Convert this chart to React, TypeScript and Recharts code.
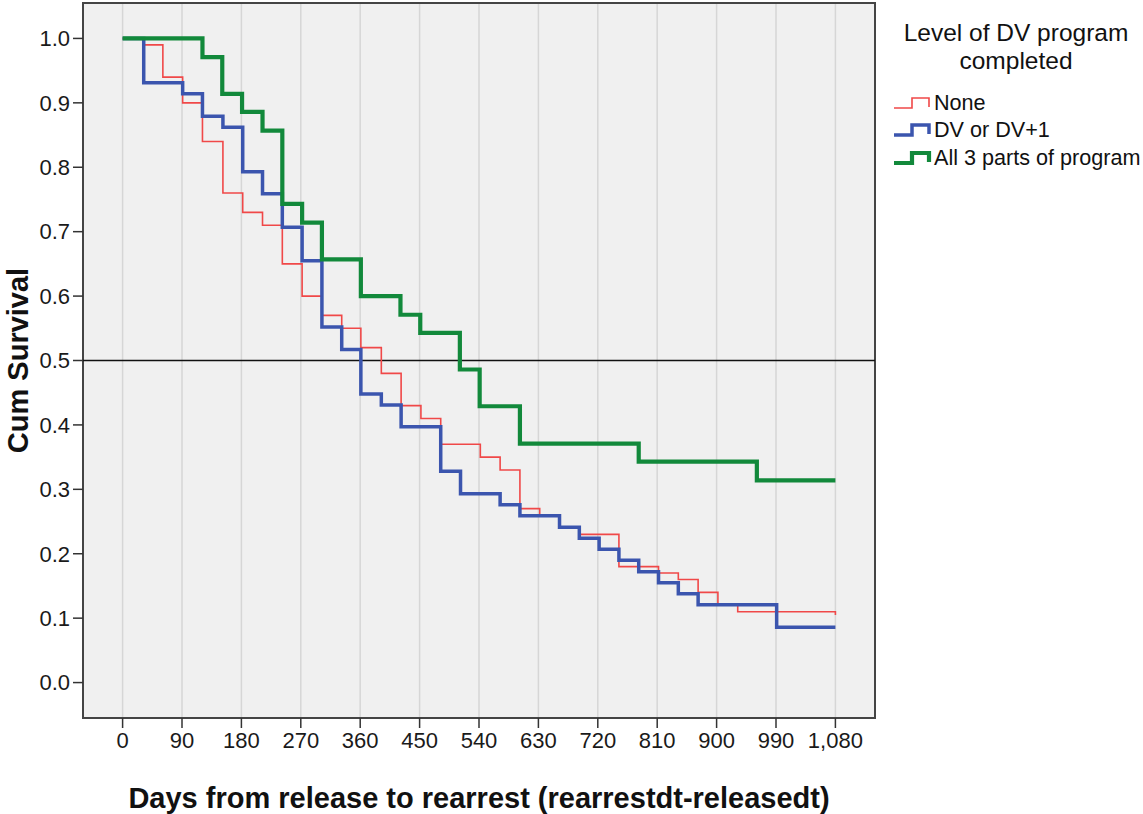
import React from 'react';
import { LineChart, Line, XAxis, YAxis, CartesianGrid, ReferenceLine, ReferenceArea } from 'recharts';

const FONT = '"Liberation Sans", Arial, sans-serif';

// Kaplan-Meier steps
const noneDays = [0, 32, 61, 91, 121, 152, 182, 212, 242, 272, 302, 332, 361, 392, 422, 452, 482, 542, 572, 602, 632, 662, 692, 752, 812, 842, 872, 902, 932, 1080];
const noneSurv = [1.0, 0.99, 0.94, 0.9, 0.84, 0.76, 0.73, 0.71, 0.65, 0.6, 0.57, 0.55, 0.52, 0.48, 0.43, 0.41, 0.37, 0.35, 0.33, 0.27, 0.26, 0.24, 0.23, 0.18, 0.17, 0.16, 0.14, 0.12, 0.11, 0.105];

const dvDays = [0, 32, 91, 121, 152, 182, 212, 242, 272, 302, 332, 361, 392, 422, 482, 512, 572, 602, 662, 692, 722, 752, 782, 812, 842, 872, 991, 1080];
const dvSurv = [1.0, 0.931, 0.914, 0.879, 0.862, 0.793, 0.759, 0.707, 0.655, 0.552, 0.517, 0.448, 0.431, 0.397, 0.328, 0.293, 0.276, 0.259, 0.241, 0.224, 0.207, 0.19, 0.172, 0.155, 0.138, 0.121, 0.086, 0.086];

const allDays = [0, 121, 151, 181, 212, 242, 272, 302, 361, 421, 451, 511, 541, 602, 782, 961, 1080];
const allSurv = [1.0, 0.971, 0.914, 0.886, 0.857, 0.743, 0.714, 0.657, 0.6, 0.571, 0.543, 0.486, 0.429, 0.371, 0.343, 0.314, 0.314];

const xTicks = [0, 90, 180, 270, 360, 450, 540, 630, 720, 810, 900, 990, 1080];
const yTicks = [0, 0.1, 0.2, 0.3, 0.4, 0.5, 0.6, 0.7, 0.8, 0.9, 1.0];

const seriesNames = ['None', 'DV or DV+1', 'All 3 parts of program'];
const seriesColors = ['#f04848', '#3b55ae', '#12893b'];
const seriesWidths = [1.6, 3.5, 4.2];

const toData = (days: number[], surv: number[]) => days.map((d, i) => ({ d, s: surv[i] }));
const noneData = toData(noneDays, noneSurv);
const dvData = toData(dvDays, dvSurv);
const allData = toData(allDays, allSurv);

const StepIcon = ({ color, width }: { color: string; width: number }) => (
  <svg width={40} height={22} style={{ display: 'block', flex: '0 0 auto' }}>
    <path d="M2 16 L20 16 L20 6 L37 6 L37 15" fill="none" stroke={color} strokeWidth={width} />
  </svg>
);

const LegendBlock = () => (
  <div style={{ position: 'absolute', left: 880, top: 19, width: 263, fontFamily: FONT, color: '#111' }}>
    <div style={{ textAlign: 'center', fontSize: 24.5, lineHeight: '28px', width: 250, marginLeft: 11 }}>
      Level of DV program<br />completed
    </div>
    <div style={{ marginTop: 14, marginLeft: 12 }}>
      {seriesNames.map((n, i) => (
        <div key={n} style={{ display: 'flex', alignItems: 'center', height: 27.5, fontSize: 21.6 }}>
          <StepIcon color={seriesColors[i]} width={seriesWidths[i]} />
          <span style={{ marginLeft: 2, whiteSpace: 'nowrap' }}>{n}</span>
        </div>
      ))}
    </div>
  </div>
);

const XTitle = (props: any) => {
  const vb = props.viewBox || {};
  return (
    <text x={vb.x + vb.width / 2} y={808} textAnchor="middle" fontFamily={FONT} fontWeight="bold" fontSize={29} fill="#111">
      Days from release to rearrest (rearrestdt-releasedt)
    </text>
  );
};

const YTitle = (props: any) => {
  const vb = props.viewBox || {};
  const cy = vb.y + vb.height / 2;
  return (
    <text x={28} y={cy} transform={`rotate(-90 28 ${cy})`} textAnchor="middle" fontFamily={FONT} fontWeight="bold" fontSize={29} fill="#111">
      Cum Survival
    </text>
  );
};

export default function App() {
  return (
    <div style={{ position: 'absolute', left: 0, top: 0, width: 1143, height: 814, background: '#fff' }}>
      <LineChart width={1143} height={814} margin={{ top: 3, right: 268, bottom: 0, left: 0 }}>
        <CartesianGrid horizontal={false} vertical stroke="#d6d6d6" strokeWidth={1.5} fill="#f0f0f0" fillOpacity={1} />
        <XAxis
          dataKey="d"
          type="number"
          domain={[-60, 1140]}
          ticks={xTicks}
          interval={0}
          allowDataOverflow
          tickFormatter={(v: number) => v.toLocaleString('en-US')}
          tickSize={10}
          tickMargin={4}
          axisLine={false}
          tickLine={{ stroke: '#333', strokeWidth: 1.5 }}
          tick={{ fontSize: 22, fill: '#1a1a1a', fontFamily: FONT }}
          height={96}
          label={<XTitle />}
        />
        <YAxis
          type="number"
          domain={[-0.055, 1.055]}
          ticks={yTicks}
          interval={0}
          allowDataOverflow
          tickFormatter={(v: number) => v.toFixed(1)}
          tickSize={10}
          tickMargin={3}
          axisLine={false}
          tickLine={{ stroke: '#333', strokeWidth: 1.5 }}
          tick={{ fontSize: 22, fill: '#1a1a1a', fontFamily: FONT }}
          width={83}
          label={<YTitle />}
        />
        <ReferenceArea x1={-60} x2={1140} y1={-0.055} y2={1.055} fill="none" stroke="#444" strokeWidth={2} ifOverflow="visible" />
        <ReferenceLine y={0.5} stroke="#111" strokeWidth={1.3} />
        <Line data={noneData} dataKey="s" name={seriesNames[0]} type="stepAfter" stroke={seriesColors[0]} strokeWidth={seriesWidths[0]} dot={false} activeDot={false} isAnimationActive={false} />
        <Line data={dvData} dataKey="s" name={seriesNames[1]} type="stepAfter" stroke={seriesColors[1]} strokeWidth={seriesWidths[1]} dot={false} activeDot={false} isAnimationActive={false} />
        <Line data={allData} dataKey="s" name={seriesNames[2]} type="stepAfter" stroke={seriesColors[2]} strokeWidth={seriesWidths[2]} dot={false} activeDot={false} isAnimationActive={false} />
      </LineChart>
      <LegendBlock />
    </div>
  );
}
